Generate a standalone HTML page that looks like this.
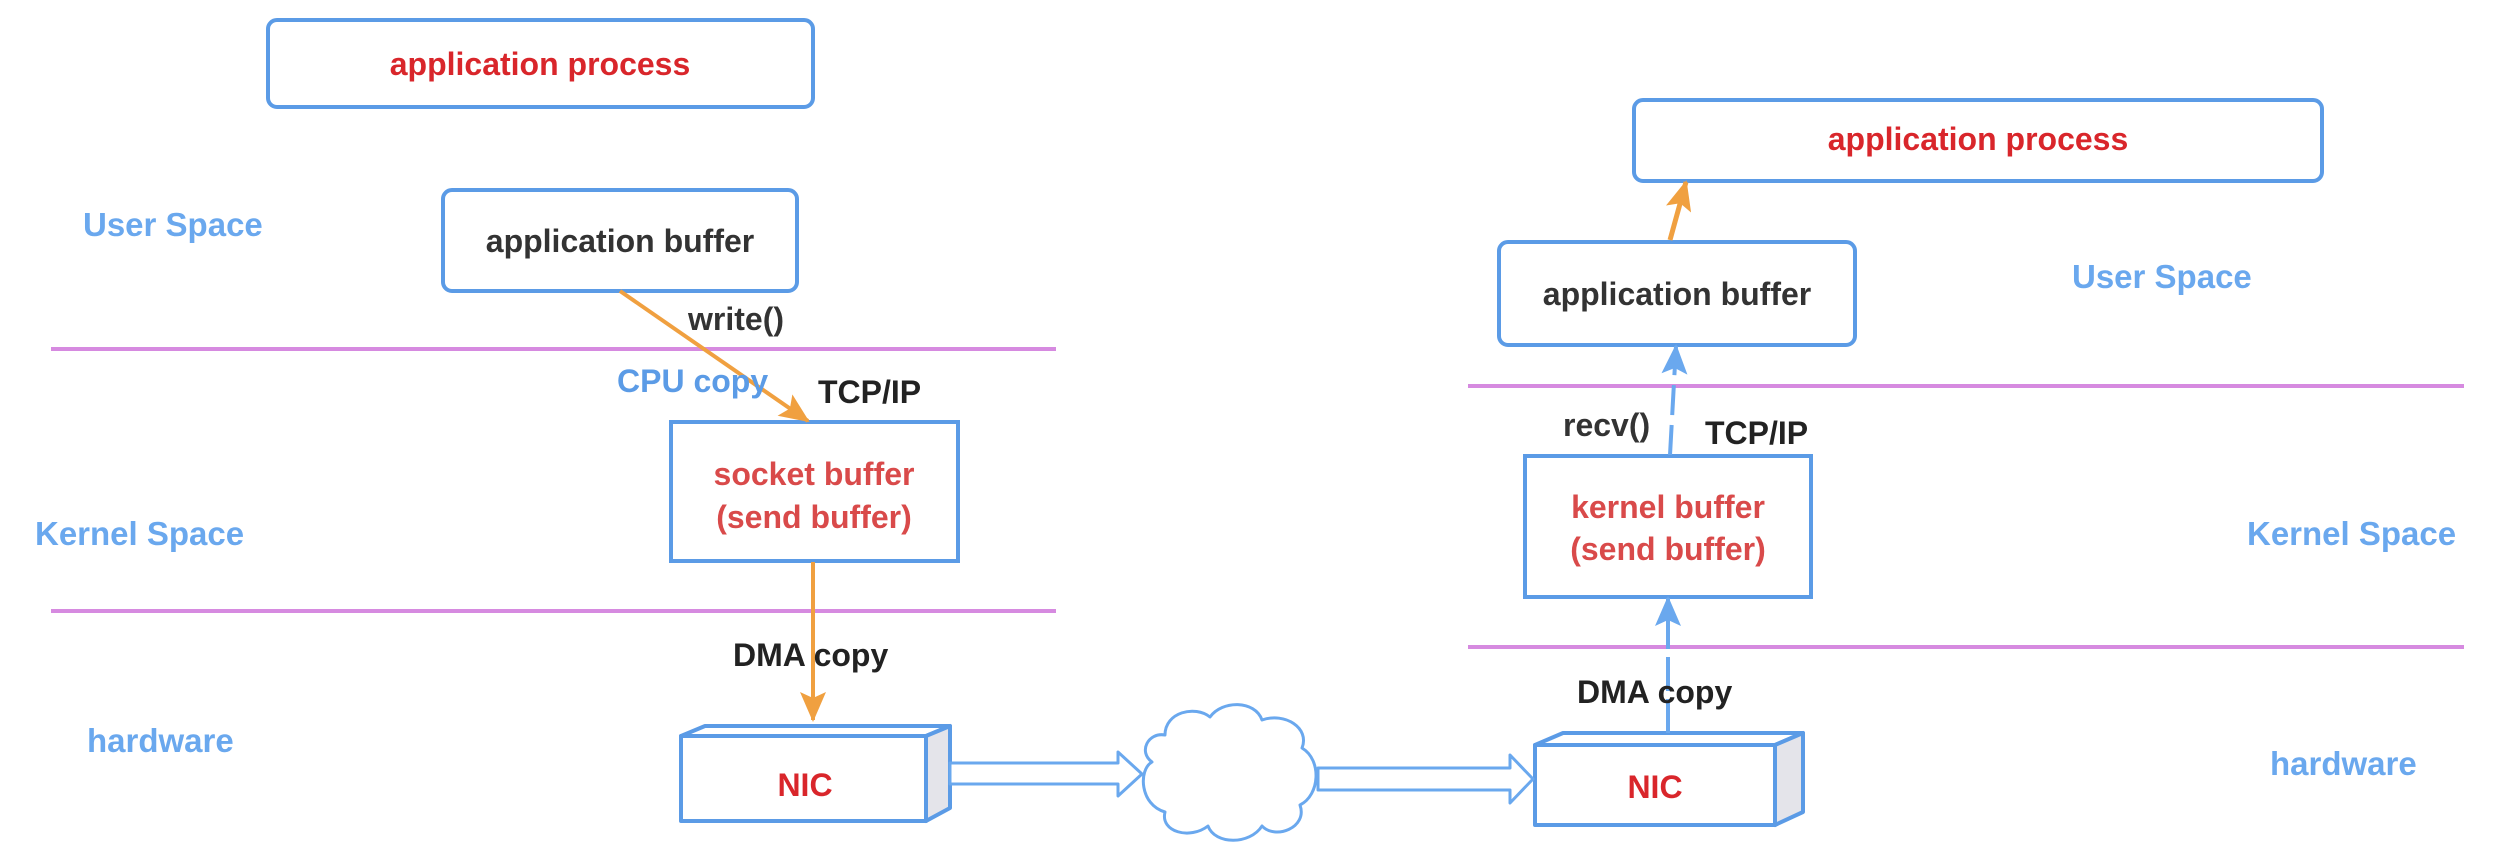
<!DOCTYPE html>
<html><head><meta charset="utf-8"><style>
html,body{margin:0;padding:0;background:#fff;}
svg{display:block;}
text{font-family:"Liberation Sans",sans-serif;font-weight:bold;}
</style></head><body>
<svg width="2494" height="858" viewBox="0 0 2494 858" xmlns="http://www.w3.org/2000/svg">
<defs>
<marker id="ao" markerWidth="30" markerHeight="26" refX="28" refY="13" orient="auto" markerUnits="userSpaceOnUse" viewBox="0 0 30 26"><path d="M0,0 L30,13 L0,26 L6,13 z" fill="#f0a040"/></marker>
<marker id="ab" markerWidth="30" markerHeight="26" refX="28" refY="13" orient="auto" markerUnits="userSpaceOnUse" viewBox="0 0 30 26"><path d="M0,0 L30,13 L0,26 L6,13 z" fill="#6aa8ee"/></marker>
</defs>
<g fill="none" stroke="#d68ae0" stroke-width="4">
<line x1="51" y1="349" x2="1056" y2="349"/>
<line x1="51" y1="611" x2="1056" y2="611"/>
<line x1="1468" y1="386" x2="2464" y2="386"/>
<line x1="1468" y1="647" x2="2464" y2="647"/>
</g>
<g fill="#fff" stroke="#5b9be6" stroke-width="4">
<rect x="268" y="20" width="545" height="87" rx="9"/>
<rect x="443" y="190" width="354" height="101" rx="9"/>
<rect x="671" y="422" width="287" height="139"/>
<rect x="1634" y="100" width="688" height="81" rx="9"/>
<rect x="1499" y="242" width="356" height="103" rx="9"/>
<rect x="1525" y="456" width="286" height="141"/>
</g>
<g stroke="#5b9be6" stroke-width="4" stroke-linejoin="round">
<path d="M681,736 L705,726 L950,726 L926,736 Z" fill="#fff"/>
<path d="M926,736 L950,726 L950,808 L926,821 Z" fill="#e4e4ea"/>
<rect x="681" y="736" width="245" height="85" fill="#fff"/>
<path d="M1535,745 L1563,733 L1803,733 L1775,745 Z" fill="#fff"/>
<path d="M1775,745 L1803,733 L1803,812 L1775,825 Z" fill="#e4e4ea"/>
<rect x="1535" y="745" width="240" height="80" fill="#fff"/>
</g>
<g fill="#fff" stroke="#6aa8ee" stroke-width="3" stroke-linejoin="round">
<path d="M950,763 L1118,763 L1118,752 L1142,774 L1118,796 L1118,784 L950,784 Z"/>
<path d="M1318,768 L1510,768 L1510,755 L1533,779 L1510,803 L1510,790 L1318,790 Z"/>
<path d="M1165,735 C1165,712 1195,705 1210,717 C1222,700 1255,700 1262,720 C1285,712 1310,728 1302,748 C1322,760 1320,795 1300,805 C1308,828 1275,840 1262,826 C1250,845 1215,845 1208,826 C1190,840 1160,832 1165,812 C1140,805 1138,770 1152,762 C1138,752 1148,732 1165,735 Z"/>
</g>
<g fill="none" stroke-width="4">
<line x1="620" y1="291" x2="808" y2="421" stroke="#f0a040" marker-end="url(#ao)"/>
<line x1="813" y1="562" x2="813" y2="720" stroke="#f0a040" marker-end="url(#ao)"/>
<line x1="1670" y1="240" x2="1686" y2="182" stroke="#f0a040" stroke-width="5" marker-end="url(#ao)"/>
<line x1="1668" y1="733" x2="1668" y2="598" stroke="#6aa8ee" stroke-dasharray="34,8" marker-end="url(#ab)"/>
<line x1="1670" y1="455" x2="1676" y2="346" stroke="#6aa8ee" stroke-dasharray="30,10" marker-end="url(#ab)"/>
</g>
<g font-size="32">
<text x="540" y="75" text-anchor="middle" fill="#d9262b">application process</text>
<text x="620" y="252" text-anchor="middle" fill="#333">application buffer</text>
<text x="814" y="485" text-anchor="middle" fill="#d94a4a">socket buffer</text>
<text x="814" y="528" text-anchor="middle" fill="#d94a4a">(send buffer)</text>
<text x="805" y="796" text-anchor="middle" fill="#d9262b">NIC</text>
<text x="1978" y="150" text-anchor="middle" fill="#d9262b">application process</text>
<text x="1677" y="305" text-anchor="middle" fill="#333">application buffer</text>
<text x="1668" y="518" text-anchor="middle" fill="#d94a4a">kernel buffer</text>
<text x="1668" y="560" text-anchor="middle" fill="#d94a4a">(send buffer)</text>
<text x="1655" y="798" text-anchor="middle" fill="#d9262b">NIC</text>
<text x="688" y="330" fill="#333">write()</text>
<text x="617" y="392" fill="#5b9be6">CPU copy</text>
<text x="818" y="403" fill="#222">TCP/IP</text>
<text x="733" y="666" fill="#222">DMA copy</text>
<text x="1563" y="436" fill="#333">recv()</text>
<text x="1705" y="444" fill="#222">TCP/IP</text>
<text x="1577" y="703" fill="#222">DMA copy</text>
</g>
<g font-size="33" fill="#6aa8ee">
<text x="83" y="236">User Space</text>
<text x="35" y="545">Kernel Space</text>
<text x="87" y="752">hardware</text>
<text x="2072" y="288">User Space</text>
<text x="2247" y="545">Kernel Space</text>
<text x="2270" y="775">hardware</text>
</g>
</svg>
</body></html>
